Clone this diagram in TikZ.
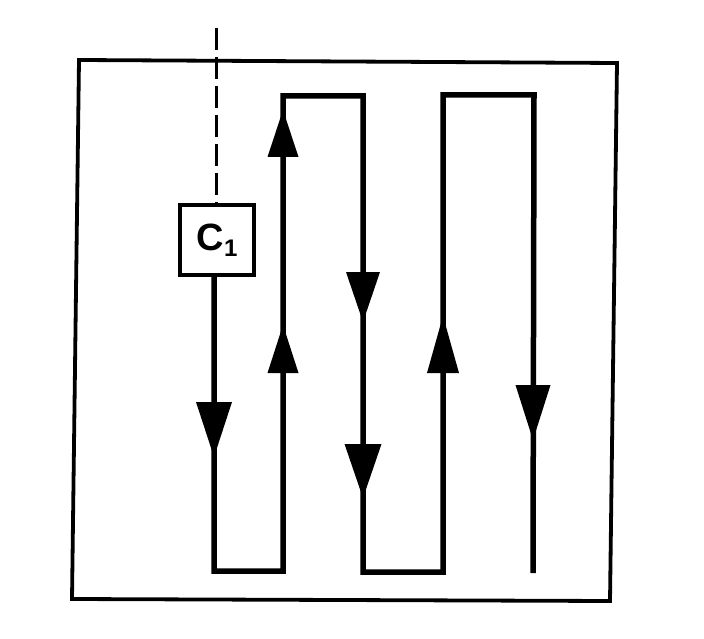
\documentclass[tikz,border=0pt]{standalone}
\usepackage{fontspec}
\setmainfont{Liberation Sans}
\newcommand\mytri[4]{\fill (#1,#2) -- (#1-#4,#2) -- (#1,#3) -- (#1+#4,#2) -- cycle;}
\begin{document}
\begin{tikzpicture}[x=1pt,y=-1pt,
  frame/.style={line width=3.8pt, line join=miter},
  flow/.style={line width=5.5pt, line join=miter},
  cbox/.style={draw, line width=4pt, minimum width=74pt, minimum height=70pt, inner sep=0pt, font=\bfseries\fontsize{38}{38}\selectfont},
  guide/.style={line width=3pt, dash pattern=on 22pt off 7pt}]
\useasboundingbox (0,0) rectangle (704,639);
\fill[white] (0,0) rectangle (704,639);
% outer frame
\draw[frame] (79,60) -- (617,63) -- (610,601) -- (72,599) -- cycle;
% C1 box
\node[cbox] (c1) at (217,240) {C\raisebox{-6pt}{\fontsize{24}{24}\selectfont 1}};
\coordinate (dtop) at (216,28);
\draw[guide] (dtop) -- (dtop |- c1.north);
% meander path
\coordinate (p1) at (214,571);
\coordinate (p2) at (283,571);
\coordinate (p3) at (283,96);
\coordinate (p4) at (363,96);
\coordinate (p5) at (363,572);
\coordinate (p6) at (443,572);
\coordinate (p7) at (443,95);
\coordinate (p8) at (534,95);
\coordinate (p9) at (533,573);
\draw[flow] (c1.south -| p1) -- (p1) -- (p2) -- (p3) -- (p4) -- (p5) -- (p6) -- (p7) -- (p8) -- (p9);
% arrowheads
\mytri{214}{402}{457}{18}
\mytri{283}{157}{110}{15.5}
\mytri{283}{373}{325}{15.5}
\mytri{363}{272}{322}{17}
\mytri{363}{444}{498}{18.5}
\mytri{443}{373}{316}{16}
\mytri{533}{385}{440}{17.5}
\end{tikzpicture}
\end{document}
